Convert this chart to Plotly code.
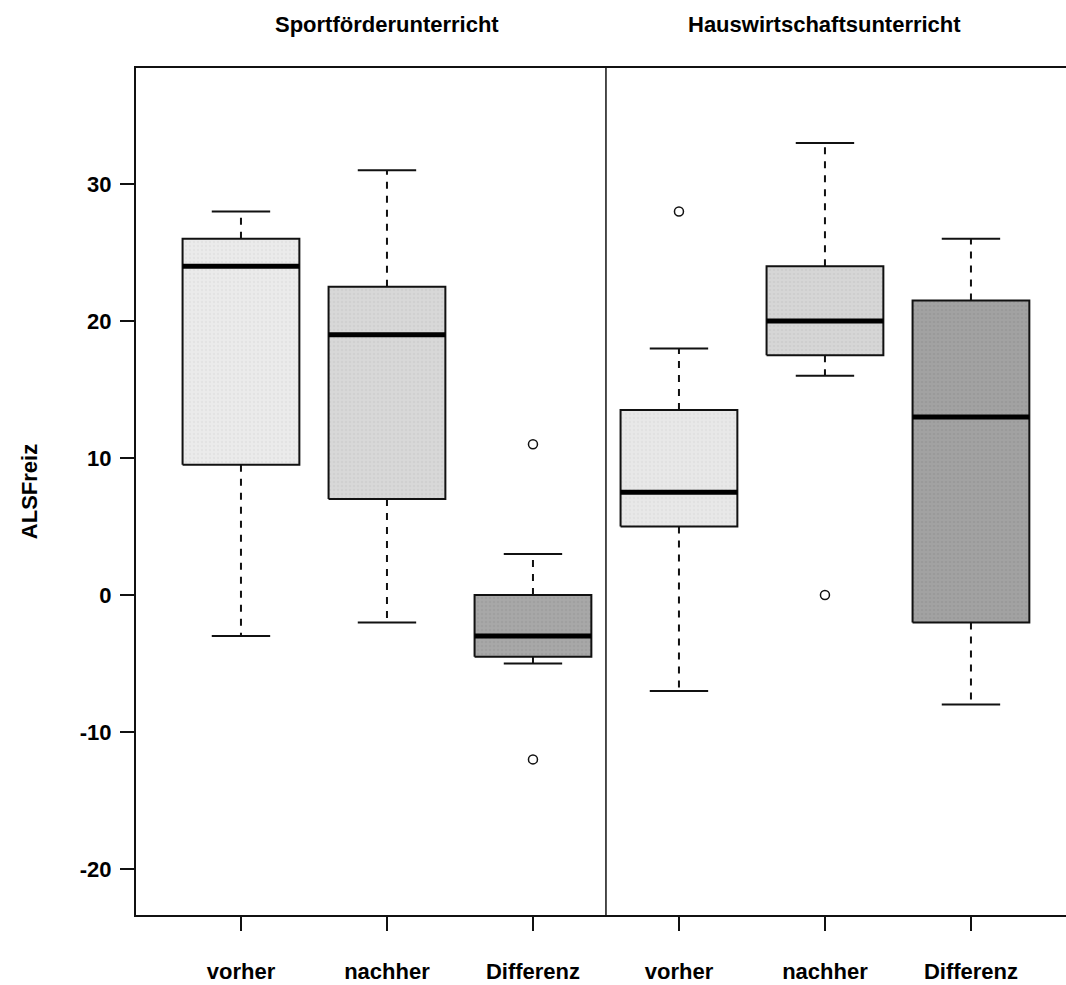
import plotly.graph_objects as go

# Box statistics for ALSFreiz, two course types, three measures each
groups = ["Sportförderunterricht", "Hauswirtschaftsunterricht"]
measures = ["vorher", "nachher", "Differenz"]
tick_labels = measures + measures

lower_whisker = [-3, -2, -5, -7, 16, -8]
q1 = [9.5, 7, -4.5, 5, 17.5, -2]
median = [24, 19, -3, 7.5, 20, 13]
q3 = [26, 22.5, 0, 13.5, 24, 21.5]
upper_whisker = [28, 31, 3, 18, 33, 26]
outliers = [[], [], [11, -12], [28], [0], []]

box_fill = ["#ebebeb", "#d8d8d8", "#a8a8a8", "#e8e8e8", "#d6d6d6", "#a2a2a2"]
box_dots = ["#dcdcdc", "#c8c8c8", "#989898", "#d9d9d9", "#c6c6c6", "#929292"]

y_ticks = [-20, -10, 0, 10, 20, 30]
y_tick_text = [str(v) for v in y_ticks]

positions = list(range(1, len(q1) + 1))
half_box = 0.4
half_cap = 0.2
line_col = "#111111"

fig = go.Figure()

for i, x in enumerate(positions):
    # dashed whiskers
    fig.add_trace(go.Scatter(
        x=[x, x, None, x, x],
        y=[q3[i], upper_whisker[i], None, q1[i], lower_whisker[i]],
        mode="lines", line=dict(color=line_col, width=2, dash="7px,7px"),
        hoverinfo="skip", showlegend=False))
    # whisker caps
    fig.add_trace(go.Scatter(
        x=[x - half_cap, x + half_cap, None, x - half_cap, x + half_cap],
        y=[upper_whisker[i], upper_whisker[i], None, lower_whisker[i], lower_whisker[i]],
        mode="lines", line=dict(color=line_col, width=2),
        hoverinfo="skip", showlegend=False))
    # box body with a fine stippled fill
    fig.add_trace(go.Scatter(
        x=[x - half_box, x + half_box, x + half_box, x - half_box, x - half_box],
        y=[q1[i], q1[i], q3[i], q3[i], q1[i]],
        mode="lines", fill="toself", fillcolor=box_fill[i],
        fillpattern=dict(shape=".", size=4, solidity=0.35,
                         fgcolor=box_dots[i], bgcolor=box_fill[i]),
        line=dict(color=line_col, width=2),
        hoverinfo="skip", showlegend=False))
    # median
    fig.add_trace(go.Scatter(
        x=[x - half_box, x + half_box], y=[median[i], median[i]],
        mode="lines", line=dict(color="#000000", width=5),
        hoverinfo="skip", showlegend=False))
    # outliers
    if outliers[i]:
        fig.add_trace(go.Scatter(
            x=[x] * len(outliers[i]), y=outliers[i], mode="markers",
            marker=dict(symbol="circle-open", size=9, color=line_col,
                        line=dict(width=1.5)),
            hoverinfo="skip", showlegend=False))

# panel divider between the two course types
fig.add_vline(x=3.5, line=dict(color=line_col, width=1.5))

# panel titles above the middle box of each group
for g, name in enumerate(groups):
    fig.add_annotation(x=positions[g * 3 + 1], y=1.0508, xref="x", yref="paper",
                       text=name, showarrow=False, yanchor="middle",
                       font=dict(size=22, color="#000000"))

text_font = dict(family="Liberation Sans, Arial, sans-serif", size=22,
                 color="#000000", weight="bold")

fig.update_layout(
    width=1066, height=985,
    margin=dict(l=136, r=0, t=68, b=70),
    paper_bgcolor="white", plot_bgcolor="white",
    font=text_font,
    xaxis=dict(range=[0.281, 6.651], tickmode="array", tickvals=positions,
               ticktext=tick_labels, ticks="outside", ticklen=14, tickwidth=2,
               tickcolor=line_col, showline=True, linecolor=line_col,
               linewidth=2, mirror=True, showgrid=False, zeroline=False,
               ticklabelstandoff=22),
    yaxis=dict(range=[-23.36, 38.47], tickmode="array", tickvals=y_ticks,
               ticktext=y_tick_text,
               ticks="outside", ticklen=14, tickwidth=2, tickcolor=line_col,
               showline=True, linecolor=line_col, linewidth=2, mirror=False,
               showgrid=False, zeroline=False, ticklabelstandoff=4,
               title=dict(text="ALSFreiz", standoff=36,
                          font=dict(size=22))),
)

fig.write_html("out.html")
